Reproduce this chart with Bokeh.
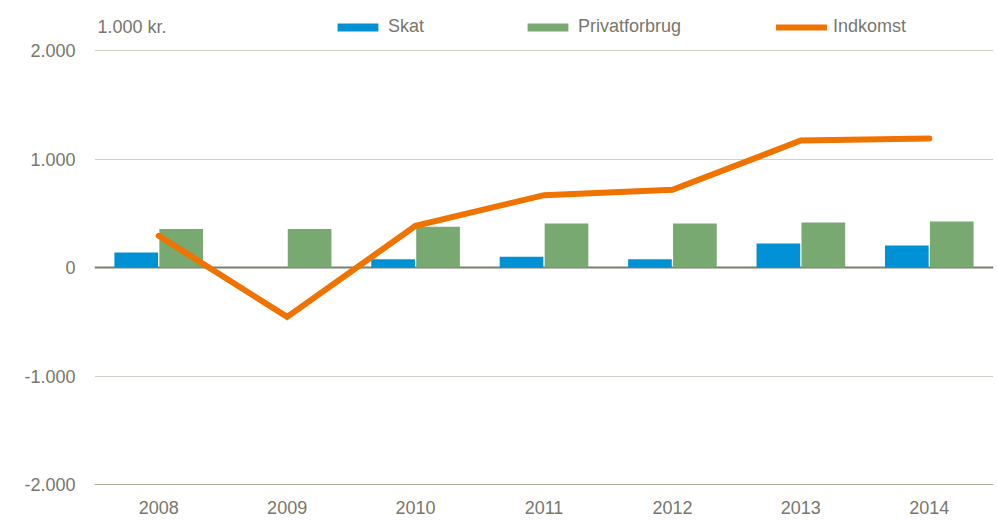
from bokeh.plotting import figure
from bokeh.models import ColumnDataSource, Legend, LegendItem, Label, FixedTicker, Span
from bokeh.transform import dodge
from bokeh.core.properties import value
from bokeh.embed import file_html
from bokeh.resources import INLINE

# ---- data ----
years = ["2008", "2009", "2010", "2011", "2012", "2013", "2014"]
skat = [138, 0, 77, 99, 77, 221, 203]
privatforbrug = [355, 355, 375, 406, 406, 415, 424]
indkomst = [292, -455, 384, 667, 716, 1170, 1189]
yticks = [-2000, -1000, 0, 1000, 2000]
ytick_labels = ["-2.000", "-1.000", "0", "1.000", "2.000"]
unit_label = "1.000 kr."

# ---- style ----
FONT = "Liberation Sans"
TEXT = "#77776b"
BLUE = "#0091d5"
GREEN = "#78a971"
ORANGE = "#f07300"
FS = "18px"

W, H = 997, 520
grid_top_px = 50
grid_bot_px = 484
ppu = (grid_bot_px - grid_top_px) / (yticks[-1] - yticks[0])
y_end = yticks[-1] + grid_top_px / ppu
y_start = yticks[0] - (H - grid_bot_px) / ppu

p = figure(width=W, height=H, x_range=years, y_range=(y_start, y_end),
           x_axis_location=None, output_backend="svg", toolbar_location=None,
           min_border_left=94, min_border_right=4, min_border_top=0, min_border_bottom=0)
p.outline_line_color = None
p.background_fill_color = "white"
p.border_fill_color = "white"
p.x_range.range_padding = 0

ax = p.yaxis[0]
ax.ticker = FixedTicker(ticks=yticks)
ax.major_label_overrides = {t: l for t, l in zip(yticks, ytick_labels)}
ax.axis_line_color = None
ax.major_tick_line_color = None
ax.minor_tick_line_color = None
ax.major_tick_out = 0
ax.major_tick_in = 0
ax.major_label_standoff = 19
ax.major_label_text_font = FONT
ax.major_label_text_font_size = FS
ax.major_label_text_color = TEXT

p.xgrid.visible = False
p.ygrid.grid_line_color = "#d2d2ca"
p.ygrid.grid_line_width = 1

p.add_layout(Span(location=yticks[0], dimension="width", line_color="#a9a995", line_width=1, level="underlay"))
p.add_layout(Span(location=0, dimension="width", line_color="#7d7d72", line_width=2, level="underlay"))

src = ColumnDataSource(dict(year=years, skat=skat, privat=privatforbrug, indkomst=indkomst))

r_skat = p.vbar(x=dodge("year", -0.175, range=p.x_range), top="skat", bottom=0, width=0.34,
                source=src, fill_color=BLUE, line_color=None)
r_priv = p.vbar(x=dodge("year", 0.175, range=p.x_range), top="privat", bottom=0, width=0.34,
                source=src, fill_color=GREEN, line_color=None)
r_ind = p.line(x="year", y="indkomst", source=src, line_color=ORANGE, line_width=6,
               line_cap="round", line_join="miter")

p.text(x="year", y=yticks[0], text="year", source=src, y_offset=23,
       text_font=value(FONT), text_font_size=FS, text_color=TEXT,
       text_align="center", text_baseline="alphabetic")

legend_y = 483
for label, r, lx, gh, so in [("Skat", r_skat, 238, 10, 5),
                             ("Privatforbrug", r_priv, 428, 10, 5),
                             ("Indkomst", r_ind, 682, 10, 6)]:
    leg = Legend(items=[LegendItem(label=label, renderers=[r])], location=(lx, legend_y),
                 orientation="horizontal", padding=0, margin=0, spacing=0,
                 border_line_color=None, background_fill_alpha=0,
                 glyph_width=51, glyph_height=gh, label_standoff=so,
                 label_text_font=FONT, label_text_font_size=FS, label_text_color=TEXT)
    p.add_layout(leg)

p.add_layout(Label(x=3, y=494, x_units="screen", y_units="screen", text=unit_label,
                   text_font=FONT, text_font_size=FS, text_color=TEXT, text_baseline="middle"))

open("out.html", "w").write(file_html(p, INLINE))
